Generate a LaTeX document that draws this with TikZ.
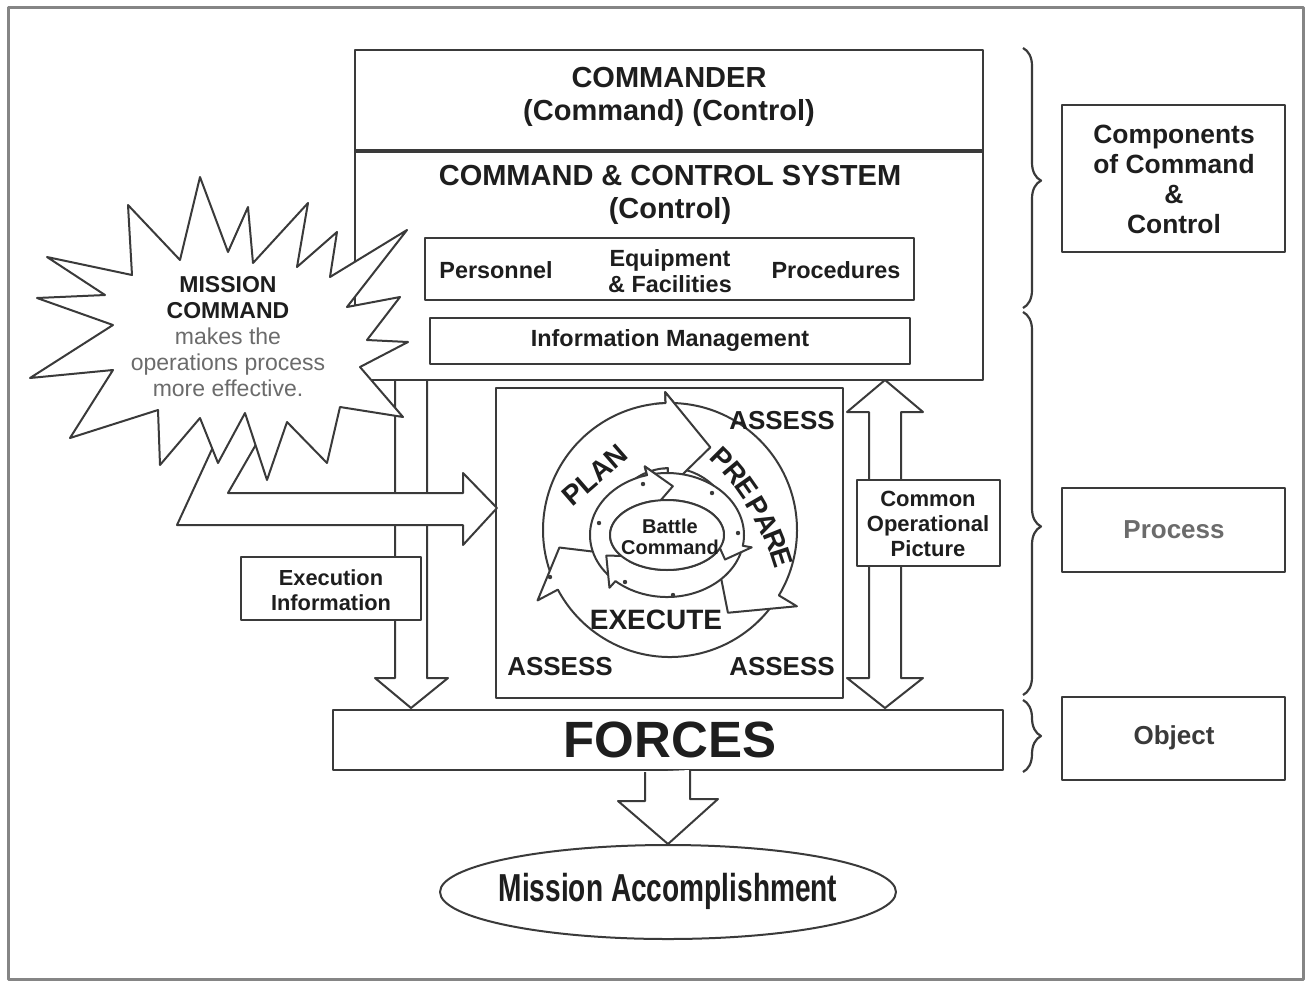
\documentclass[tikz,border=0pt]{standalone}
\usepackage{fontspec}
\setmainfont{Liberation Sans}
\newfontfamily\narrowsans[FakeStretch=0.72]{Liberation Sans}
\usetikzlibrary{positioning,fit,shapes.geometric,decorations.pathreplacing}

\definecolor{ln}{HTML}{3A3A3A}
\definecolor{txt}{HTML}{1E1E1E}
\definecolor{soft}{HTML}{6B6B6B}
\definecolor{frm}{HTML}{858585}

\tikzset{
  box/.style={draw=ln, line width=1pt, fill=white, inner sep=0pt},
  fat/.style={draw=ln, line width=1pt, fill=white},
  lbl/.style={text=txt, align=center, inner sep=0pt},
  brc/.style={draw=ln, line width=1.1pt, decorate,
    decoration={brace, amplitude=9pt, aspect=#1}},
}

\begin{document}
\begin{tikzpicture}[x=0.5pt, y=-0.5pt, line join=round]
    \useasboundingbox (0,0) rectangle (1307,981);
    % outer frame
    \draw[frm, line width=1.5pt] (8,7) rectangle (1303,979);

    % block arrows down to the forces
    \coordinate (exroot) at (411,380);
    \coordinate (extip) at (411,708);
    \coordinate (coptop) at (885,380);
    \coordinate (copbot) at (885,708);
    \draw[fat] (exroot) ++(-16,0) -- ++(0,298) -- ++(-20,0) -- (extip)
        -- ++(37,-30) -- ++(-21,0) -- ++(0,-298);
    \draw[fat] (coptop) -- ++(38,32) -- ++(-22,0) -- ++(0,266) -- ++(22,0)
        -- (copbot) -- ++(-38,-30) -- ++(22,0) -- ++(0,-266) -- ++(-22,0) -- cycle;

    % commander and command & control system
    \node[box, fit={(355,50) (983,152)}] (cmdr) {};
    \node[box, fit={(355,152) (983,380)}] (ccs) {};
    \draw[ln, line width=2pt] (ccs.north west) -- (ccs.north east);
    \node[lbl, font=\bfseries\fontsize{14.5}{16.5}\selectfont] (cmdrtxt) at (669,97)
        {COMMANDER\\(Command) (Control)};
    \node[lbl, font=\bfseries\fontsize{14.5}{16.5}\selectfont] (ccstxt) at (670,195)
        {COMMAND \& CONTROL SYSTEM\\(Control)};

    \node[box, fit={(425,238) (914,300)}] (elems) {};
    \node[lbl, font=\bfseries\fontsize{11.7}{13}\selectfont] (pers) at (496,270) {Personnel};
    \node[lbl, font=\bfseries\fontsize{11.7}{13}\selectfont] (equip) at (670,271)
        {Equipment\\\& Facilities};
    \node[lbl, font=\bfseries\fontsize{11.7}{13}\selectfont] (proc) at (836,270) {Procedures};

    \node[box, fit={(430,318) (910,364)}] (infomgt) {};
    \node[lbl, font=\bfseries\fontsize{11.7}{13}\selectfont] (infotxt) at (670,340)
        {Information Management};

    % operations process
    \node[box, fit={(496,388) (843,698)}] (cyc) {};
    \begin{scope}[shift={(670,530)}, yscale=-1]
        % plan, execute, prepare, then the plan head once more
        \draw[fat] (200:127) arc[start angle=200, end angle=92, radius=127] -- (92:138)
            -- (64:92) -- (92:42) -- (92:62) arc[start angle=92, end angle=200, radius=62];
        \draw[fat] (-35:127) arc[start angle=-35, end angle=-152, radius=127] -- (-152:150)
            -- (-171:112) -- (-155:58) -- (-152:62) arc[start angle=-152, end angle=-35, radius=62];
        \draw[fat] (88:127) arc[start angle=88, end angle=-31, radius=127] -- (-31:148)
            -- (-55:101) -- (-31:55) -- (-31:62) arc[start angle=-31, end angle=88, radius=62];
        \draw[fat] (97:127) arc[start angle=97, end angle=92, radius=127] -- (92:138)
            -- (64:92) -- (92:42) -- (92:62) arc[start angle=92, end angle=97, radius=62];

        % small ring round battle command
        \begin{scope}[shift={(-3,-5)}]
            \fill[white] (0,0) ellipse [x radius=77, y radius=62];
            \draw[fat] ({77*cos(223)},{62*sin(223)}) arc[start angle=223, end angle=105, x radius=77, y radius=62]
                -- ({86*cos(105)},{71*sin(105)}) -- ({67*cos(85)},{49*sin(85)})
                -- ({50*cos(105)},{28*sin(105)}) -- ({57*cos(105)},{35*sin(105)})
                arc[start angle=105, end angle=223, x radius=57, y radius=35];
            \draw[fat] ({77*cos(-15)},{62*sin(-15)}) arc[start angle=-15, end angle=-132, x radius=77, y radius=62]
                -- ({86*cos(-132)},{71*sin(-132)}) -- ({67*cos(-155)},{49*sin(-155)})
                -- ({50*cos(-132)},{28*sin(-132)}) -- ({57*cos(-132)},{35*sin(-132)})
                arc[start angle=-132, end angle=-15, x radius=57, y radius=35];
            \draw[fat] ({77*cos(100)},{62*sin(100)}) arc[start angle=100, end angle=-10, x radius=77, y radius=62]
                -- ({86*cos(-10)},{71*sin(-10)}) -- ({67*cos(-30)},{49*sin(-30)})
                -- ({50*cos(-10)},{28*sin(-10)}) -- ({57*cos(-10)},{35*sin(-10)})
                arc[start angle=-10, end angle=100, x radius=57, y radius=35];
            \draw[fat] ({77*cos(110)},{62*sin(110)}) arc[start angle=110, end angle=105, x radius=77, y radius=62]
                -- ({86*cos(105)},{71*sin(105)}) -- ({67*cos(85)},{49*sin(85)})
                -- ({50*cos(105)},{28*sin(105)}) -- ({57*cos(105)},{35*sin(105)})
                arc[start angle=105, end angle=110, x radius=57, y radius=35];
        \end{scope}
    \end{scope}
    \foreach \x/\y in {643/484, 599/523, 712/493, 738/533, 625/582, 673/595, 550/577}
        \fill[ln] (\x,\y) circle[radius=2.2];
    \draw[fat] (667,535) ellipse [x radius=57, y radius=35];
    \node[lbl, font=\bfseries\fontsize{10}{10.5}\selectfont] (bc) at (670,537) {Battle\\Command};

    \node[lbl, font=\bfseries\fontsize{14}{14}\selectfont, rotate=41] (plan) at (595,475) {PLAN};
    \foreach \ch/\x/\y/\r in {P/722/458/-45, R/735/473/-50, E/747/488/-55, P/758/507/-60,
                              A/767/523/-64, R/775/540/-68, E/782/557/-72}
        \node[lbl, font=\bfseries\fontsize{14}{14}\selectfont, rotate=\r] (prep\x) at (\x,\y) {\ch};
    \node[lbl, font=\bfseries\fontsize{14}{14}\selectfont] (exec) at (656,620) {EXECUTE};
    \node[lbl, font=\bfseries\fontsize{13}{13}\selectfont] (asstr) at (782,421) {ASSESS};
    \node[lbl, font=\bfseries\fontsize{13}{13}\selectfont] (assbl) at (560,667) {ASSESS};
    \node[lbl, font=\bfseries\fontsize{13}{13}\selectfont] (assbr) at (782,667) {ASSESS};

    % mission command arrow and burst
    \coordinate (mctip) at (497,508);
    \draw[fat] (231,408) -- (177,525) -- (463,525) -- (463,545) -- (mctip)
        -- (463,473) -- (463,493) -- (228,493) -- (277,408);
    \draw[fat] (200,177) -- (228,252) -- (248,207) -- (253,263) -- (308,203) -- (297,267)
        -- (337,232) -- (330,277) -- (407,230) -- (347,307) -- (400,297) -- (367,340)
        -- (408,342) -- (360,367) -- (403,417) -- (340,407) -- (327,463) -- (287,422)
        -- (267,480) -- (245,413) -- (218,463) -- (200,418) -- (160,465) -- (158,410)
        -- (70,438) -- (113,370) -- (30,378) -- (113,325) -- (37,298) -- (105,295)
        -- (47,257) -- (132,275) -- (128,205) -- (180,260) -- cycle;
    \node[lbl, font=\fontsize{11.5}{13}\selectfont] (mctxt) at (228,337)
        {\textbf{MISSION}\\\textbf{COMMAND}\\\textcolor{soft}{makes the}\\
         \textcolor{soft}{operations process}\\\textcolor{soft}{more effective.}};

    % execution information and common operational picture
    \node[box, fit={(241,557) (421,620)}] (exinfo) {};
    \node[lbl, font=\bfseries\fontsize{10.9}{12.5}\selectfont] (exinfotxt) at (331,590)
        {Execution\\Information};
    \node[box, fit={(857,480) (1000,566)}] (cop) {};
    \node[lbl, font=\bfseries\fontsize{11}{12.5}\selectfont] (coptxt) at (928,524)
        {Common\\Operational\\Picture};

    % forces and mission accomplishment
    \node[box, fit={(333,710) (1003,770)}] (forces) {};
    \node[lbl, font=\bfseries\fontsize{25.5}{25.5}\selectfont] (forcestxt) at (670,740) {FORCES};
    \node[box, ellipse, minimum width=228pt, minimum height=47pt] (mission) at (668,892) {};
    \node[lbl, font=\narrowsans\bfseries\fontsize{19.5}{19.5}\selectfont] (missiontxt) at (668,891)
        {Mission Accomplishment};
    \draw[fat] (forces.south) ++(-23,1) -- ++(0,29) -- ++(-27,0) -- (mission.north)
        -- ++(50,-45) -- ++(-28,0) -- ++(0,-29);

    % braces and their labels
    \draw[brc=0.51] (1023,48) -- (1023,308);
    \draw[brc=0.56] (1023,312) -- (1023,695);
    \draw[brc=0.5] (1023,700) -- (1023,772);
    \node[box, fit={(1062,105) (1285,252)}] (comp) {};
    \node[lbl, font=\bfseries\fontsize{13.2}{15}\selectfont] (comptxt) at (1174,179)
        {Components\\of Command\\\&\\Control};
    \node[box, fit={(1062,488) (1285,572)}] (procbox) {};
    \node[lbl, font=\bfseries\fontsize{13}{13}\selectfont, text=soft] (proctxt) at (1174,530) {Process};
    \node[box, fit={(1062,697) (1285,780)}] (objbox) {};
    \node[lbl, font=\bfseries\fontsize{13}{13}\selectfont, text=ln] (objtxt) at (1174,738) {Object};
\end{tikzpicture}
\end{document}
